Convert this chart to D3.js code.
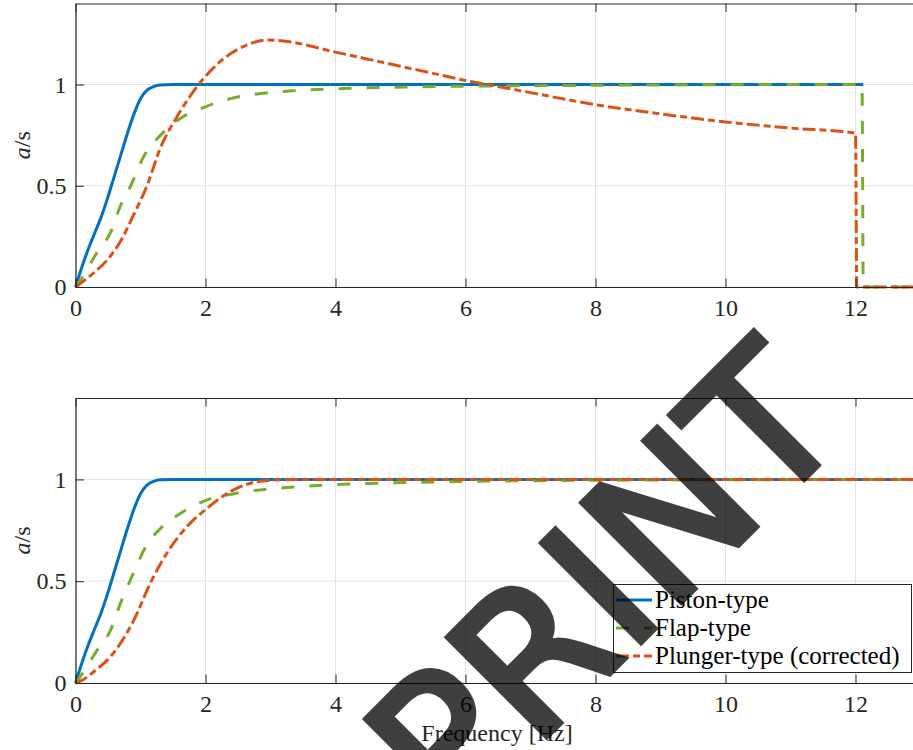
<!DOCTYPE html>
<html>
<head>
<meta charset="utf-8">
<script src="https://cdn.jsdelivr.net/npm/d3@7"></script>
<style>
  html, body { margin: 0; padding: 0; background: #fff; }
  svg { display: block; }
  .tick text { font-family: "Liberation Serif", "DejaVu Serif", serif; font-size: 24px; fill: #262626; }
</style>
</head>
<body>
<div id="chart"></div>
<script>
// a/s 传递比 —— 上：原始三种造波机；下：柱塞式修正后
// 曲线值按图读取，频率单位 Hz

// 上图
const pistonTopF = [0, 0.1, 0.2, 0.3, 0.4, 0.5, 0.6, 0.7, 0.8, 0.9, 1.0, 1.1, 1.2, 1.3, 1.5, 2, 4, 6, 8, 10, 12.12];
const pistonTopV = [0, 0.1, 0.19, 0.27, 0.35, 0.445, 0.55, 0.655, 0.76, 0.855, 0.93, 0.972, 0.99, 0.998, 1, 1, 1, 1, 1, 1, 1];
const flapTopF = [0, 0.08, 0.33, 0.54, 0.69, 0.85, 1.05, 1.31, 1.6, 2.0, 2.38, 3.26, 4.12, 5.6, 8, 10, 12.1, 12.12, 13];
const flapTopV = [0, 0.035, 0.17, 0.27, 0.4, 0.5, 0.645, 0.75, 0.83, 0.89, 0.93, 0.967, 0.98, 0.99, 0.996, 0.999, 1, 0, 0];
const plungerTopF = [0, 0.28, 0.49, 0.7, 0.9, 1.1, 1.31, 1.56, 1.92, 2.33, 2.6, 2.95, 3.2, 4, 4.5, 5, 5.5, 6, 6.5, 7, 8, 9, 10, 11, 12.0, 12.02, 13];
const plungerTopV = [0, 0.07, 0.134, 0.23, 0.36, 0.5, 0.69, 0.84, 1.01, 1.14, 1.19, 1.22, 1.215, 1.16, 1.125, 1.09, 1.055, 1.02, 0.99, 0.96, 0.9, 0.855, 0.815, 0.785, 0.76, 0, 0];

// 下图
const pistonBotF = [0, 0.1, 0.2, 0.3, 0.4, 0.5, 0.6, 0.7, 0.8, 0.9, 1.0, 1.1, 1.2, 1.3, 1.5, 2, 4, 6, 8, 10, 13];
const pistonBotV = [0, 0.1, 0.19, 0.27, 0.35, 0.445, 0.55, 0.655, 0.76, 0.855, 0.93, 0.972, 0.99, 0.998, 1, 1, 1, 1, 1, 1, 1];
const flapBotF = [0, 0.08, 0.33, 0.54, 0.69, 0.85, 1.1, 1.31, 1.6, 2.03, 2.44, 3.46, 4.5, 6, 8, 13];
const flapBotV = [0, 0.035, 0.16, 0.26, 0.39, 0.51, 0.68, 0.76, 0.83, 0.9, 0.93, 0.965, 0.98, 0.99, 0.996, 1];
const plungerBotF = [0, 0.08, 0.3, 0.54, 0.9, 1.15, 1.41, 1.72, 2.03, 2.44, 2.95, 3.5, 13];
const plungerBotV = [0, 0.01, 0.06, 0.13, 0.31, 0.49, 0.64, 0.77, 0.86, 0.95, 0.995, 1, 1];

const LEGEND = ["Piston-type", "Flap-type", "Plunger-type (corrected)"];
const X_TICKS = [0, 2, 4, 6, 8, 10, 12];
const Y_TICKS = [0, 0.5, 1];
const X_DOMAIN = [0, 13];
const Y_DOMAIN = [0, 1.4];

const W = 913, H = 750;
const COL = ["#0072BD", "#77AC30", "#D95319"];
const DASH = [null, "13,15", "13,4,7,4"];
const SERIF = '"Liberation Serif", "DejaVu Serif", serif';
const INK = "#262626";

const svg = d3.select("#chart").append("svg")
  .attr("width", W).attr("height", H).attr("viewBox", `0 0 ${W} ${H}`);

const x = d3.scaleLinear().domain(X_DOMAIN).range([75.5, 920.5]);

const panels = [
  { top: 3.5, bot: 287, series: [[pistonTopF, pistonTopV], [flapTopF, flapTopV], [plungerTopF, plungerTopV]] },
  { top: 398, bot: 683, series: [[pistonBotF, pistonBotV], [flapBotF, flapBotV], [plungerBotF, plungerBotV]] },
];

panels.forEach((p, pi) => {
  const y = d3.scaleLinear().domain(Y_DOMAIN).range([p.bot, p.top]);
  const g = svg.append("g");

  // 网格
  X_TICKS.forEach(v => g.append("line")
    .attr("x1", x(v)).attr("x2", x(v)).attr("y1", p.top).attr("y2", p.bot)
    .attr("stroke", "#e3e3e3").attr("stroke-width", 1));
  Y_TICKS.forEach(v => g.append("line")
    .attr("x1", x.range()[0]).attr("x2", x.range()[1]).attr("y1", y(v)).attr("y2", y(v))
    .attr("stroke", "#e3e3e3").attr("stroke-width", 1));

  // 曲线
  const line = d3.line().x(d => x(d[0])).y(d => y(d[1])).curve(d3.curveMonotoneX);
  p.series.forEach(([F, V], si) => {
    const pts = F.map((f, i) => [f, V[i]]);
    g.append("path").attr("d", line(pts)).attr("fill", "none")
      .attr("stroke", COL[si]).attr("stroke-width", 3)
      .attr("stroke-dasharray", DASH[si]);
  });

  // 坐标轴（刻度朝内）
  const ax = d3.axisBottom(x).tickValues(X_TICKS).tickFormat(d3.format("d"))
    .tickSizeInner(-8.5).tickSizeOuter(0).tickPadding(12);
  const axG = g.append("g").attr("transform", `translate(0,${p.bot})`).call(ax);
  const axT = g.append("g").attr("transform", `translate(0,${p.top})`)
    .call(d3.axisTop(x).tickValues(X_TICKS).tickFormat("").tickSizeInner(-8.5).tickSizeOuter(0));
  const ay = d3.axisLeft(y).tickValues(Y_TICKS).tickFormat(d => String(d))
    .tickSizeInner(-8.5).tickSizeOuter(0).tickPadding(9);
  const ayG = g.append("g").attr("transform", `translate(${x.range()[0]},0)`).call(ay);
  [axG, axT, ayG].forEach(a => {
    a.select(".domain").attr("stroke", INK).attr("stroke-width", 1.2);
    a.selectAll(".tick line").attr("stroke", INK).attr("stroke-width", 1);
  });

  // 纵轴标题 a/s
  const yl = g.append("text")
    .attr("transform", `translate(30,${(p.top + p.bot) / 2}) rotate(-90)`)
    .attr("text-anchor", "middle")
    .style("font-family", SERIF).style("font-size", "24px").attr("fill", INK);
  yl.append("tspan").style("font-style", "italic").text("a");
  yl.append("tspan").text("/s");

  if (pi === 1) {
    svg.append("text").attr("x", 497).attr("y", 741).attr("text-anchor", "middle")
      .style("font-family", SERIF).style("font-size", "24px").attr("fill", INK)
      .text("Frequency [Hz]");

    // 图例
    const lg = svg.append("g");
    lg.append("rect").attr("x", 613.5).attr("y", 584.5).attr("width", 298).attr("height", 88)
      .attr("fill", "#fff").attr("stroke", INK).attr("stroke-width", 1);
    LEGEND.forEach((name, i) => {
      const cy = 600 + i * 28;
      lg.append("line").attr("x1", 616).attr("x2", 652).attr("y1", cy).attr("y2", cy)
        .attr("stroke", COL[i]).attr("stroke-width", 3).attr("stroke-dasharray", DASH[i]);
      lg.append("text").attr("x", 655).attr("y", cy + 8)
        .style("font-family", SERIF).style("font-size", "25px").attr("fill", "#000")
        .text(name);
    });
  }
});

// 水印
svg.append("text")
  .attr("transform", "translate(652,631) rotate(-45)")
  .attr("text-anchor", "middle")
  .style("font-family", '"DejaVu Sans", sans-serif').style("font-size", "192px")
  .attr("fill", "#000").attr("stroke", "#000").attr("stroke-width", 6)
  .attr("stroke-linejoin", "miter").attr("opacity", 0.75)
  .text("PRINT");
</script>
</body>
</html>
